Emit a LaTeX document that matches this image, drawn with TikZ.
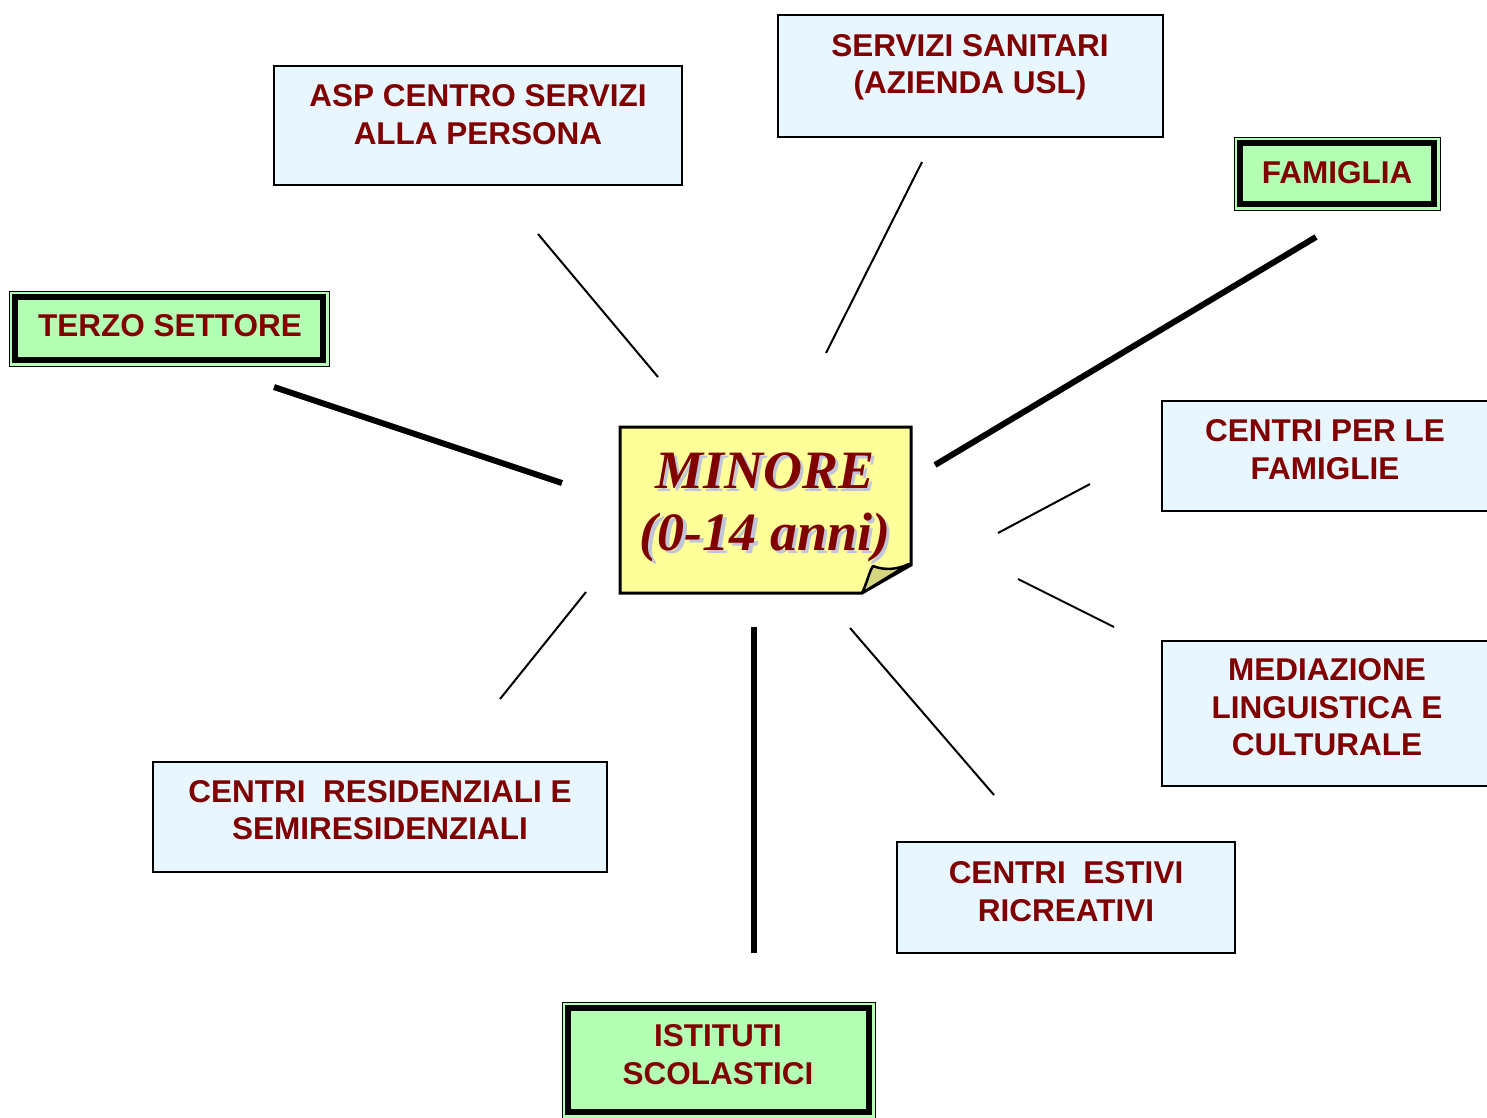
\documentclass[tikz,border=0pt]{standalone}
\usepackage{fontspec}
\setmainfont{Liberation Sans}
\newfontfamily\notefont{Liberation Serif}

\definecolor{textred}{RGB}{128,0,0}
\definecolor{boxblue}{RGB}{232,246,255}
\definecolor{boxgreen}{RGB}{179,255,179}
\definecolor{noteyellow}{RGB}{255,255,153}
\definecolor{notefold}{RGB}{214,214,128}
\definecolor{noteshadow}{RGB}{192,198,216}

\tikzset{
  bluebox/.style={draw=black, line width=2pt, fill=boxblue, rectangle, inner sep=0pt},
  greenbox/.style={draw=black, line width=1pt, fill=boxgreen, rectangle, inner sep=0pt},
  lbl/.style={text=textred, font=\fontsize{31.5}{37.5}\selectfont\bfseries, align=center, inner sep=0pt},
  notetext/.style={text=textred, font=\notefont\fontsize{54}{60}\selectfont\bfseries\itshape, inner sep=0pt, anchor=base},
  thinlink/.style={draw=black, line width=2pt},
  thicklink/.style={draw=black, line width=6pt},
}

% inner heavy frame of a green box
\newcommand{\heavyframe}[1]{%
  \draw[line width=6pt] ([shift={(6.5,6.5)}]#1.north west) rectangle ([shift={(-6.5,-6.5)}]#1.south east);}
% text with a soft offset shadow behind it
\newcommand{\shadowed}[1]{%
  \rlap{\kern3.5pt\raisebox{-3pt}{\textcolor{noteshadow}{#1}}}#1}

\begin{document}
\begin{tikzpicture}[x=1pt,y=-1pt]
\useasboundingbox (0,0) rectangle (1487,1117);
\clip (0,0) rectangle (1487,1117);
\fill[white] (0,0) rectangle (1487,1117);

% --- connectors (free-standing spokes) ---
\coordinate (asp-a) at (538,234);   \coordinate (asp-b) at (658,377);
\coordinate (san-a) at (922,162);   \coordinate (san-b) at (826,353);
\coordinate (fam-a) at (1316,237);  \coordinate (fam-b) at (935,465);
\coordinate (ter-a) at (274,387);   \coordinate (ter-b) at (562,483);
\coordinate (cpf-a) at (1090,484);  \coordinate (cpf-b) at (998,533);
\coordinate (med-a) at (1018,579);  \coordinate (med-b) at (1114,627);
\coordinate (est-a) at (850,628);   \coordinate (est-b) at (994,795);
\coordinate (ist-a) at (754,627);   \coordinate (ist-b) at (754,953);
\coordinate (res-a) at (586,592);   \coordinate (res-b) at (500,699);

\draw[thinlink]  (asp-a) -- (asp-b);
\draw[thinlink]  (san-a) -- (san-b);
\draw[thicklink] (fam-a) -- (fam-b);
\draw[thicklink] (ter-a) -- (ter-b);
\draw[thinlink]  (cpf-a) -- (cpf-b);
\draw[thinlink]  (med-a) -- (med-b);
\draw[thinlink]  (est-a) -- (est-b);
\draw[thicklink] (ist-a) -- (ist-b);
\draw[thinlink]  (res-a) -- (res-b);

% --- light blue boxes ---
\node[bluebox, minimum width=408, minimum height=119] (asp) at (478,125.5) {};
\node[lbl] (asp-t) at (478,114.5) {ASP CENTRO SERVIZI\\ALLA PERSONA};

\node[bluebox, minimum width=385, minimum height=122] (san) at (970.5,76) {};
\node[lbl] (san-t) at (970,67.5) {SERVIZI SANITARI\\(AZIENDA USL)};

\node[bluebox, minimum width=335, minimum height=110] (cpf) at (1329.5,456) {};
\node[lbl] (cpf-t) at (1325,449.5) {CENTRI PER LE\\FAMIGLIE};

\node[bluebox, minimum width=335, minimum height=145] (med) at (1329.5,713.5) {};
\node[lbl] (med-t) at (1327,707.5) {MEDIAZIONE\\LINGUISTICA E\\CULTURALE};

\node[bluebox, minimum width=338, minimum height=111] (est) at (1066,897.5) {};
\node[lbl] (est-t) at (1066,891.5) {CENTRI \ ESTIVI\\RICREATIVI};

\node[bluebox, minimum width=454, minimum height=110] (res) at (380,817) {};
\node[lbl] (res-t) at (380,810) {CENTRI \ RESIDENZIALI E\\SEMIRESIDENZIALI};

% --- green framed boxes ---
\node[greenbox, minimum width=206, minimum height=73] (fam) at (1337,173.5) {};
\heavyframe{fam}
\node[lbl] (fam-t) at (1337,173) {FAMIGLIA};

\node[greenbox, minimum width=320, minimum height=75] (ter) at (169,328.5) {};
\heavyframe{ter}
\node[lbl] (ter-t) at (170,326) {TERZO SETTORE};

\node[greenbox, minimum width=313, minimum height=116] (ist) at (718.5,1060) {};
\heavyframe{ist}
\node[lbl] (ist-t) at (718,1054.5) {ISTITUTI\\SCOLASTICI};

% --- central note with folded corner ---
\draw[line width=3pt, fill=noteyellow, line join=miter]
  (620,427) -- (911,427) -- (911,565) -- (862,593) -- (620,593) -- cycle;
\draw[line width=2.5pt, fill=notefold, line join=round]
  (862,593) .. controls (867,583) and (869,572) .. (873,566)
  .. controls (886,571) and (898,569) .. (909,564) -- cycle;

\node[notetext] (min-t1) at (765,488) {\shadowed{MINORE}};
\node[notetext] (min-t2) at (765,550) {\shadowed{(0-14 anni)}};
\end{tikzpicture}
\end{document}
